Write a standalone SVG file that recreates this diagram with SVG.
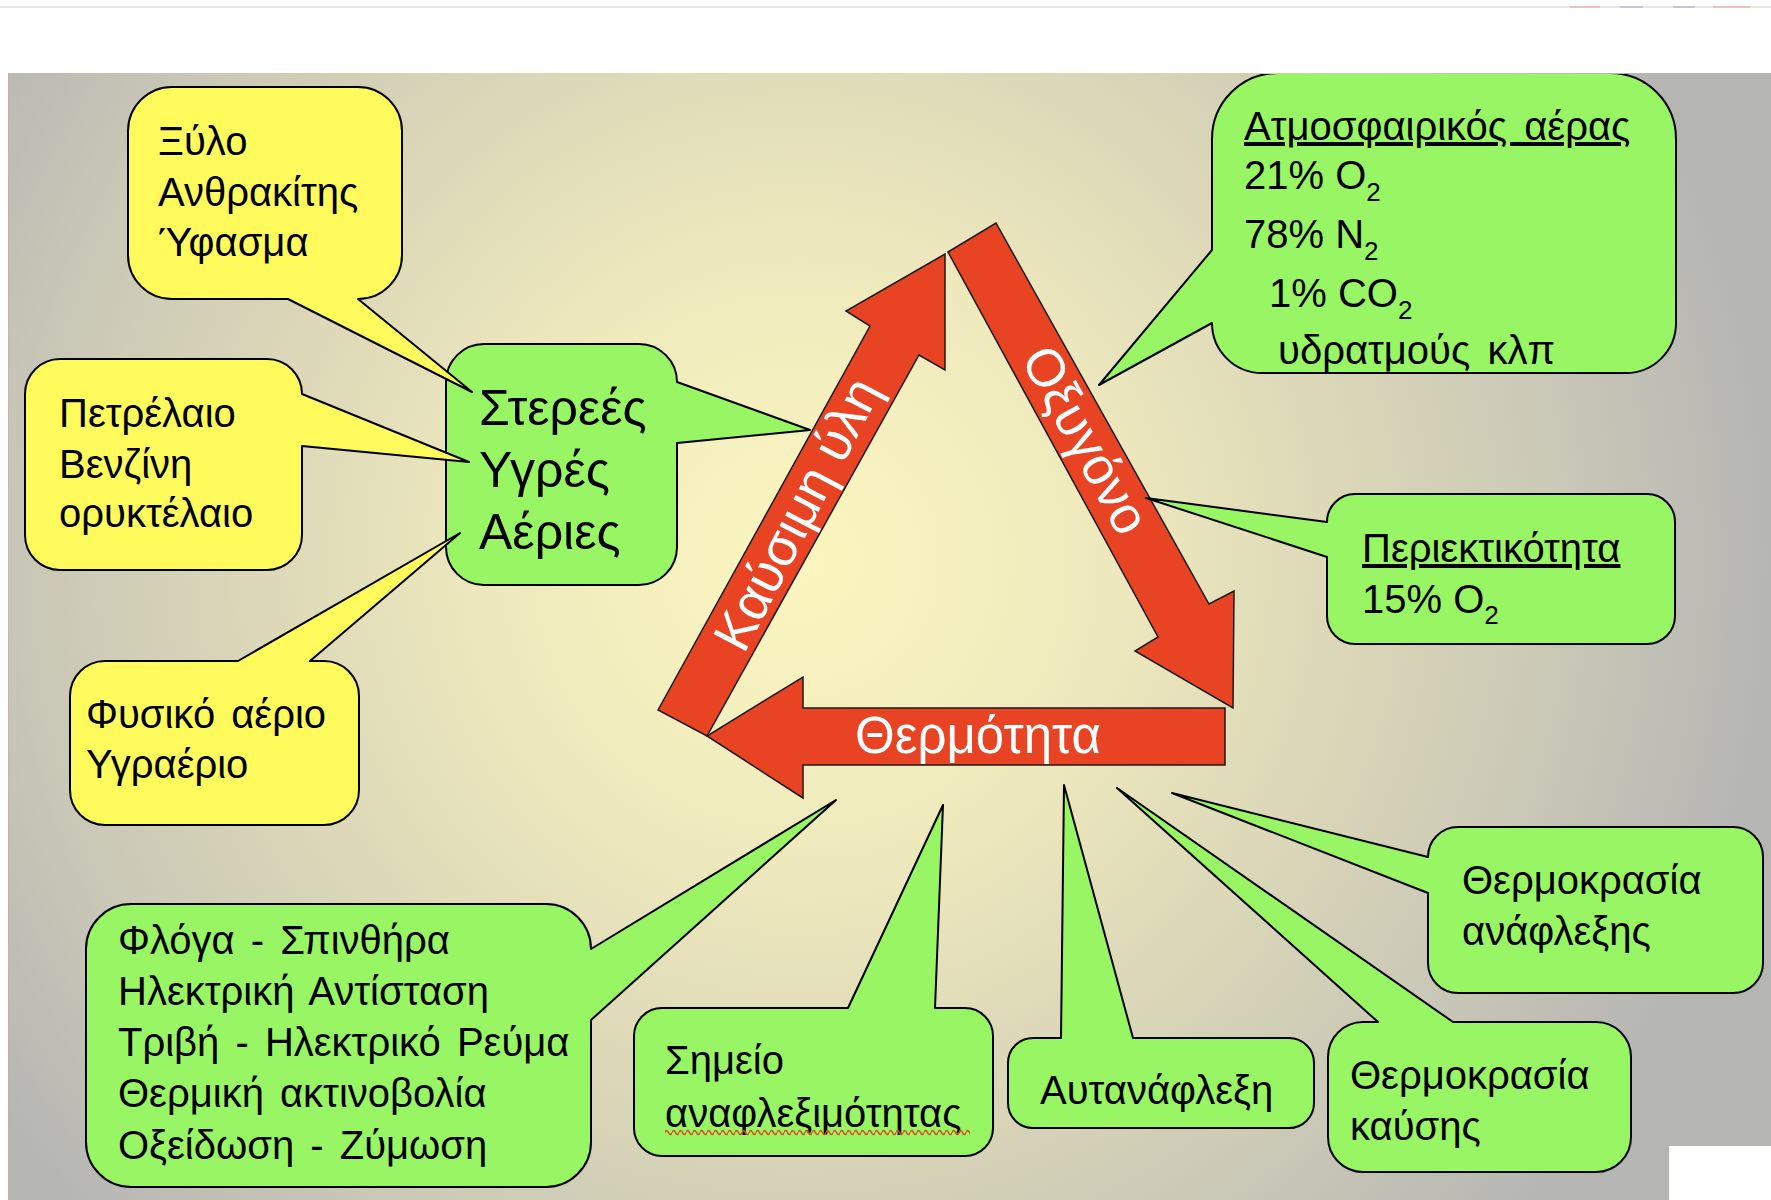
<svg xmlns="http://www.w3.org/2000/svg" width="1771" height="1200" viewBox="0 0 1771 1200">
  <defs>
    <radialGradient id="bg" gradientUnits="userSpaceOnUse" cx="800" cy="560" r="980">
      <stop offset="0" stop-color="#fbf6bf"/>
      <stop offset="0.3" stop-color="#efeabd"/>
      <stop offset="0.55" stop-color="#dcd8b8"/>
      <stop offset="0.8" stop-color="#c8c6b6"/>
      <stop offset="1" stop-color="#b5b5b4"/>
    </radialGradient>
    <clipPath id="slide">
      <rect x="8" y="74" width="1763" height="1126"/>
    </clipPath>
    <pattern id="squiggle" patternUnits="userSpaceOnUse" x="665" y="1129" width="7" height="7">
      <path d="M0,3.5 C1.2,0.8 2.3,0.8 3.5,3.5 S5.8,6.2 7,3.5" fill="none" stroke="#e0481c" stroke-width="1.6"/>
    </pattern>
    <style>
      .y { fill: #fffb5c; stroke: #000; stroke-width: 2; stroke-linejoin: round; }
      .g { fill: #98f564; stroke: #000; stroke-width: 2; stroke-linejoin: round; }
      .arrow { fill: #e84424; stroke: #1a1a1a; stroke-width: 1.5; stroke-linejoin: miter; }
      .t { font-family: "Liberation Sans", Arial, sans-serif; font-size: 40px; fill: #000; }
      .big { font-size: 50px; }
      .w { font-family: "Liberation Sans", Arial, sans-serif; font-size: 53px; fill: #fff; }
      .sub { font-size: 26px; }
      .u { text-decoration: underline; }
    </style>
  </defs>

  <!-- page -->
  <rect x="0" y="0" width="1771" height="1200" fill="#ffffff"/>
  <line x1="0" y1="7" x2="1771" y2="7" stroke="#e2dfdb" stroke-width="1.5"/>
  <g stroke-width="2" opacity="0.5">
    <line x1="1570" y1="7" x2="1600" y2="7" stroke="#e6a0a0"/>
    <line x1="1620" y1="7" x2="1643" y2="7" stroke="#a8a0c8"/>
    <line x1="1673" y1="7" x2="1695" y2="7" stroke="#a8a0c8"/>
    <line x1="1713" y1="7" x2="1750" y2="7" stroke="#e6a0a0"/>
  </g>
  <rect x="8" y="73" width="1763" height="1127" fill="url(#bg)"/>
  <line x1="8.5" y1="73" x2="8.5" y2="1200" stroke="#d4a8a8" stroke-width="1" opacity="0.6"/>
  <rect x="1669" y="1146" width="102" height="54" fill="#ffffff"/>

  <!-- connectors: the three red arrows of the fire triangle -->
  <g id="connectors">
    <polygon id="arrow-fuel" class="arrow" points="658,710 870,326 846,311 945,254 945,370 919,355 707,736"/>
    <polygon id="arrow-oxygen" class="arrow" points="948,252 996,223 1209,604 1234,591 1233,708 1135,651 1158,637"/>
    <polygon id="arrow-heat" class="arrow" points="1225,708 1225,765 803,765 803,798 707,736 803,677 803,708"/>
    <text class="w" transform="translate(797,514) rotate(-62.5)" x="0" y="18" text-anchor="middle">Καύσιμη ύλη</text>
    <text class="w" transform="translate(1084,441) rotate(61)" x="0" y="16" text-anchor="middle">Οξυγόνο</text>
    <text class="w" x="978" y="753" text-anchor="middle" style="font-size:51px">Θερμότητα</text>
  </g>

  <!-- green nodes -->
  <g id="node-states">
    <path class="g" d="M484,344 H639 A38,38 0 0 1 677,382 L810,430 L677,443 V547 A38,38 0 0 1 639,585 H484 A38,38 0 0 1 446,547 V382 A38,38 0 0 1 484,344 Z"/>
    <text class="t big" x="479"><tspan x="479" y="425">Στερεές</tspan><tspan x="479" y="487">Υγρές</tspan><tspan x="479" y="549">Αέριες</tspan></text>
  </g>

  <g id="node-air" clip-path="url(#slide)">
    <path class="g" d="M1278,73 H1610 A66,66 0 0 1 1676,139 V323 A50,50 0 0 1 1626,373 H1262 A50,50 0 0 1 1212,323 L1099,385 L1212,250 V139 A66,66 0 0 1 1278,73 Z"/>
    <text class="t u" x="1244" y="140" style="word-spacing:6px">Ατμοσφαιρικός αέρας</text>
    <text class="t" x="1244" y="189">21% O<tspan class="sub" dy="12">2</tspan></text>
    <text class="t" x="1244" y="248">78% N<tspan class="sub" dy="12">2</tspan></text>
    <text class="t" x="1269" y="307">1% CO<tspan class="sub" dy="12">2</tspan></text>
    <text class="t" x="1278" y="364" style="word-spacing:6px">υδρατμούς κλπ</text>
  </g>

  <g id="node-content">
    <path class="g" d="M1355,494 H1647 A28,28 0 0 1 1675,522 V616 A28,28 0 0 1 1647,644 H1355 A28,28 0 0 1 1327,616 V557 L1146,498 L1327,522 A28,28 0 0 1 1355,494 Z"/>
    <text class="t u" x="1362" y="562">Περιεκτικότητα</text>
    <text class="t" x="1362" y="613">15% O<tspan class="sub" dy="11">2</tspan></text>
  </g>

  <g id="node-ignition-sources">
    <path class="g" d="M131,904 H546 A45,45 0 0 1 591,949 L836,800 L591,1020 V1142 A45,45 0 0 1 546,1187 H131 A45,45 0 0 1 86,1142 V949 A45,45 0 0 1 131,904 Z"/>
    <text class="t" style="word-spacing:5px"><tspan x="118" y="954">Φλόγα - Σπινθήρα</tspan><tspan x="118" y="1005">Ηλεκτρική Αντίσταση</tspan><tspan x="118" y="1056">Τριβή - Ηλεκτρικό Ρεύμα</tspan><tspan x="118" y="1107">Θερμική ακτινοβολία</tspan><tspan x="118" y="1159">Οξείδωση - Ζύμωση</tspan></text>
  </g>

  <g id="node-flash-point">
    <path class="g" d="M662,1008 H848 L943,805 L935,1008 H965 A28,28 0 0 1 993,1036 V1128 A28,28 0 0 1 965,1156 H662 A28,28 0 0 1 634,1128 V1036 A28,28 0 0 1 662,1008 Z"/>
    <text class="t"><tspan x="665" y="1074">Σημείο</tspan><tspan x="665" y="1127">αναφλεξιμότητας</tspan></text>
    <rect x="665" y="1129" width="305" height="7" fill="url(#squiggle)"/>
  </g>

  <g id="node-autoignition">
    <path class="g" d="M1033,1038 H1061 L1064,785 L1133,1038 H1289 A25,25 0 0 1 1314,1063 V1103 A25,25 0 0 1 1289,1128 H1033 A25,25 0 0 1 1008,1103 V1063 A25,25 0 0 1 1033,1038 Z"/>
    <text class="t" x="1040" y="1104">Αυτανάφλεξη</text>
  </g>

  <g id="node-combustion-temp">
    <path class="g" d="M1363,1022 H1378 L1117,788 L1453,1022 H1596 A35,35 0 0 1 1631,1057 V1137 A35,35 0 0 1 1596,1172 H1363 A35,35 0 0 1 1328,1137 V1057 A35,35 0 0 1 1363,1022 Z"/>
    <text class="t"><tspan x="1350" y="1089">Θερμοκρασία</tspan><tspan x="1350" y="1140">καύσης</tspan></text>
  </g>

  <g id="node-ignition-temp">
    <path class="g" d="M1458,827 H1733 A30,30 0 0 1 1763,857 V963 A30,30 0 0 1 1733,993 H1458 A30,30 0 0 1 1428,963 V893 L1172,793 L1428,857 A30,30 0 0 1 1458,827 Z"/>
    <text class="t"><tspan x="1462" y="894">Θερμοκρασία</tspan><tspan x="1462" y="945">ανάφλεξης</tspan></text>
  </g>

  <!-- yellow nodes -->
  <g id="node-solids">
    <path class="y" d="M172,87 H358 A44,44 0 0 1 402,131 V255 A44,44 0 0 1 358,299 L472,392 L288,299 H172 A44,44 0 0 1 128,255 V131 A44,44 0 0 1 172,87 Z"/>
    <text class="t"><tspan x="158" y="155">Ξύλο</tspan><tspan x="158" y="206">Ανθρακίτης</tspan><tspan x="158" y="256">Ύφασμα</tspan></text>
  </g>

  <g id="node-liquids">
    <path class="y" d="M60,359 H267 A35,35 0 0 1 302,394 L469,462 L302,446 V535 A35,35 0 0 1 267,570 H60 A35,35 0 0 1 25,535 V394 A35,35 0 0 1 60,359 Z"/>
    <text class="t"><tspan x="59" y="427">Πετρέλαιο</tspan><tspan x="59" y="478">Βενζίνη</tspan><tspan x="59" y="527">ορυκτέλαιο</tspan></text>
  </g>

  <g id="node-gases">
    <path class="y" d="M105,661 H238 L460,533 L310,661 H324 A35,35 0 0 1 359,696 V790 A35,35 0 0 1 324,825 H105 A35,35 0 0 1 70,790 V696 A35,35 0 0 1 105,661 Z"/>
    <text class="t" style="word-spacing:5px"><tspan x="86" y="728">Φυσικό αέριο</tspan><tspan x="86" y="778">Υγραέριο</tspan></text>
  </g>
</svg>
